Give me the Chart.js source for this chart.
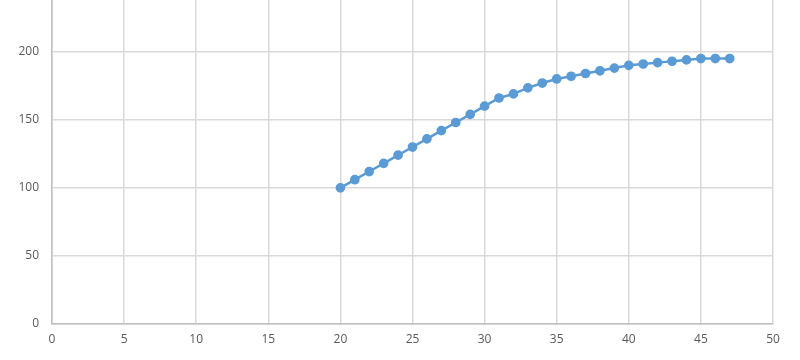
<!DOCTYPE html>
<html>
<head>
<meta charset="utf-8">
<script src="https://cdn.jsdelivr.net/npm/chart.js@4"></script>
<style>
  html, body { margin: 0; padding: 0; background: #fff; }
  #wrap { width: 800px; height: 360px; }
</style>
</head>
<body>
<div id="wrap"><canvas id="chart" width="800" height="360"></canvas></div>
<script>
// values
const xValues = [20, 21, 22, 23, 24, 25, 26, 27, 28, 29, 30, 31, 32, 33, 34, 35, 36, 37, 38, 39, 40, 41, 42, 43, 44, 45, 46, 47];
const yValues = [100, 106, 112, 118, 124, 130, 136, 142, 148, 154, 160, 166, 169, 173.5, 177, 180, 182, 184, 186, 188, 190, 191, 192, 193, 194, 195, 195, 195];
const xTicks = [0, 5, 10, 15, 20, 25, 30, 35, 40, 45, 50];
const yTicks = [0, 50, 100, 150, 200];

const blue = '#5B9BD5';
const gridColor = '#d9d9d9';
const labelColor = '#595959';

const ctx = document.getElementById('chart').getContext('2d');

new Chart(ctx, {
  type: 'scatter',
  data: {
    datasets: [{
      data: xValues.map((x, i) => ({ x: x, y: yValues[i] })),
      showLine: true,
      borderColor: blue,
      backgroundColor: blue,
      borderWidth: 2.5,
      pointRadius: 3.6,
      pointHoverRadius: 3.6,
      tension: 0
    }]
  },
  options: {
    responsive: false,
    animation: false,
    layout: { autoPadding: false, padding: { top: 0, right: 27, bottom: 0, left: 0 } },
    plugins: { legend: { display: false }, tooltip: { enabled: false } },
    scales: {
      x: {
        type: 'linear',
        min: 0,
        max: 50,
        afterBuildTicks: (scale) => { scale.ticks = xTicks.map(v => ({ value: v })); },
        afterFit: (scale) => { scale.height = 36; },
        ticks: { color: labelColor, padding: 8, font: { family: 'Open Sans', size: 12 }, maxRotation: 0 },
        grid: { color: gridColor, lineWidth: 1.5, drawTicks: false },
        border: { color: '#bfbfbf', width: 1.5 }
      },
      y: {
        min: 0,
        max: 238,
        afterBuildTicks: (scale) => { scale.ticks = yTicks.map(v => ({ value: v })); },
        afterFit: (scale) => { scale.width = 52; scale.paddingTop = 0; scale.paddingBottom = 0; },
        ticks: { color: labelColor, padding: 13, font: { family: 'Open Sans', size: 12 } },
        grid: { color: gridColor, lineWidth: 1.5, drawTicks: false },
        border: { color: '#bfbfbf', width: 1.5 }
      }
    }
  }
});
</script>
</body>
</html>
